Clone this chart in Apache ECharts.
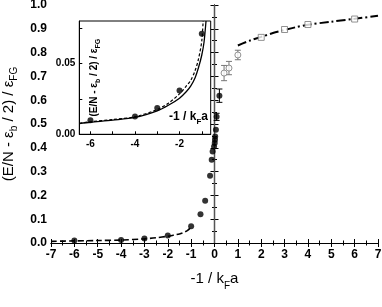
<!DOCTYPE html>
<html><head><meta charset="utf-8">
<script src="https://cdn.jsdelivr.net/npm/echarts@6/dist/echarts.min.js"></script>
<style>html,body{margin:0;padding:0;background:#fff}#c{width:382px;height:307px}</style>
</head><body><div id="c"></div>
<script>
// ---- data ----
const filledX = [-6,-4,-3,-2,-1,-0.6,-0.4,-0.19,-0.12,-0.08,-0.02,0.01,0.02,0.03,0.06,0.09,0.21];
const filledY = [0.010,0.0126,0.0186,0.031,0.070,0.121,0.178,0.283,0.35,0.384,0.405,0.42,0.434,0.448,0.476,0.530,0.619];
const filledErrX = [0.09,0.21];
const filledErrY = [0.530,0.619];
const filledErr = [0.015,0.028];
const openCircX = [0.41,0.62,1.0];
const openCircY = [0.714,0.735,0.79];
const openCircErr = [0.032,0.028,0.02];
const squareX = [2,3,4,6];
const squareY = [0.864,0.897,0.918,0.941];
const fitLeftX = [-7,-6,-5,-4,-3,-2.5,-2,-1.7,-1.5,-1.3,-1.15,-1.0];
const fitLeftY = [0.007,0.0088,0.0104,0.0124,0.0175,0.022,0.0285,0.034,0.038,0.045,0.053,0.066];
const fitRightX = [1,1.5,2,2.5,3,3.5,4,5,6,7];
const fitRightY = [0.830,0.850,0.866,0.882,0.895,0.907,0.917,0.930,0.942,0.955];
// inset
const insetX = [-6,-4,-3,-2,-1];
const insetY = [0.010,0.0126,0.0186,0.031,0.071];
const solidX = [-6.5,-6,-5,-4,-3,-2.5,-2,-1.7,-1.5,-1.3,-1.15,-1.0,-0.9,-0.81];
const solidY = [0.0076,0.0085,0.0100,0.0119,0.0166,0.0205,0.0255,0.030,0.034,0.040,0.047,0.056,0.065,0.080];
const dashX = [-6.5,-6,-5,-4,-3,-2.5,-2,-1.7,-1.5,-1.3,-1.15,-1.0,-0.94];
const dashY = [0.0078,0.0088,0.0104,0.0124,0.0175,0.022,0.0285,0.034,0.038,0.045,0.053,0.066,0.080];
const insetTickX = [-6,-5,-4,-3,-2,-1];
const insetLabelX = [-6,-4,-2];
const insetTickY = [0,0.025,0.05,0.075];
const insetLabelY = [0,0.05];

const zip = (a,b) => a.map((v,i)=>[v,b[i]]);
const F = '"Liberation Sans", Arial, sans-serif';

function errRender(color){
  return function(params, api){
    const x = api.value(0), lo = api.value(1), hi = api.value(2);
    const p1 = api.coord([x, lo]), p2 = api.coord([x, hi]);
    const w = 3;
    const st = {stroke: color, lineWidth: 1};
    return {type:'group', children:[
      {type:'line', shape:{x1:p1[0],y1:p1[1],x2:p2[0],y2:p2[1]}, style:st},
      {type:'line', shape:{x1:p1[0]-w,y1:p1[1],x2:p1[0]+w,y2:p1[1]}, style:st},
      {type:'line', shape:{x1:p2[0]-w,y1:p2[1],x2:p2[0]+w,y2:p2[1]}, style:st}
    ]};
  };
}

const chart = echarts.init(document.getElementById('c'), null, {renderer:'canvas'});
const axLine = {show:true, lineStyle:{color:'#000', width:1}};
const mainTick = {show:true, inside:true, length:4, lineStyle:{color:'#000'}};
const mainMinor = {show:true, splitNumber:2, length:2.5, lineStyle:{color:'#000'}};
const subStyle = {fontSize:10, fontFamily:F, lineHeight:22, verticalAlign:'bottom'};

chart.setOption({
  animation:false,
  grid:[
    {left:51, top:5, right:4, bottom:64, show:false, containLabel:false, outerBoundsMode:'none'},
    {left:79.3, top:21, width:131.4, height:113.3, show:true, backgroundColor:'#fff', borderColor:'#000', borderWidth:1, z:5, containLabel:false, outerBoundsMode:'none'}
  ],
  xAxis:[
    {gridIndex:0, type:'value', min:-7, max:7, interval:1, position:'bottom',
     axisLine:axLine, axisTick:mainTick, minorTick:mainMinor, splitLine:{show:false},
     axisLabel:{fontFamily:F, fontSize:12, fontWeight:'bold', color:'#000', margin:6},
     name:'-1 / k{s|F}a', nameLocation:'middle', nameGap:24,
     nameTextStyle:{fontFamily:F, fontSize:15, color:'#000', rich:{s:{fontSize:10, fontFamily:F, color:'#000', lineHeight:24, verticalAlign:'bottom'}}}},
    {gridIndex:0, type:'value', min:-7, max:7, interval:1, position:'top',
     axisLine:axLine, axisTick:mainTick, minorTick:mainMinor, splitLine:{show:false}, axisLabel:{show:false}},
    {gridIndex:1, type:'value', min:-6.5, max:-0.6, position:'bottom', z:6,
     axisLine:axLine,
     axisTick:{show:true, inside:true, length:3, customValues:insetTickX, lineStyle:{color:'#000'}},
     splitLine:{show:false},
     axisLabel:{customValues:insetLabelX, fontFamily:F, fontSize:10, fontWeight:'bold', color:'#000', margin:5}}
  ],
  yAxis:[
    {gridIndex:0, type:'value', min:0, max:1, interval:0.1, position:'left',
     axisLine:axLine, axisTick:mainTick, minorTick:mainMinor, splitLine:{show:false},
     axisLabel:{fontFamily:F, fontSize:12, fontWeight:'bold', color:'#000', margin:4, formatter:v=>v.toFixed(1)},
     name:'(E/N - ε{s|b} / 2) / ε{s|FG}', nameLocation:'middle', nameGap:30,
     nameTextStyle:{fontFamily:F, fontSize:15, color:'#000', rich:{s:subStyle}}},
    {gridIndex:0, type:'value', min:0, max:1, interval:0.1, position:'right',
     axisLine:axLine, axisTick:mainTick, minorTick:mainMinor, splitLine:{show:false}, axisLabel:{show:false}},
    {gridIndex:1, type:'value', min:0, max:0.08, position:'left', z:6,
     axisLine:axLine,
     axisTick:{show:true, inside:true, length:3, customValues:insetTickY, lineStyle:{color:'#000'}},
     splitLine:{show:false},
     axisLabel:{customValues:insetLabelY, fontFamily:F, fontSize:10, fontWeight:'bold', color:'#000', margin:4, formatter:v=>v.toFixed(2)},
     name:'(E/N - ε{s|b} / 2) / ε{s|FG}', nameLocation:'middle', nameGap:-22,
     nameTextStyle:{fontFamily:F, fontSize:10, fontWeight:'bold', color:'#000', rich:{s:{fontSize:7, fontWeight:'bold', fontFamily:F, color:'#000', lineHeight:15, verticalAlign:'bottom'}}}}
  ],
  graphic:[
    {type:'text', right:382-208, top:111, z:20,
     style:{text:'-1 / k{s|F}a', font:'bold 12px '+F, fill:'#000',
       rich:{s:{fontSize:8, fontWeight:'bold', fontFamily:F, fill:'#000', lineHeight:18, verticalAlign:'bottom'}}}}
  ],
  series:[
    {type:'line', xAxisIndex:0, yAxisIndex:0, data:[[0,0],[0,1]], symbol:'none', silent:true,
     lineStyle:{color:'#555', width:1.5}, z:1},
    {type:'line', xAxisIndex:0, yAxisIndex:0, data:zip(fitLeftX, fitLeftY), symbol:'none', smooth:0.3,
     lineStyle:{color:'#000', width:1.6, type:[6,3]}, z:2},
    {type:'line', xAxisIndex:0, yAxisIndex:0, data:zip(fitRightX, fitRightY), symbol:'none', smooth:0.3,
     lineStyle:{color:'#000', width:2, type:[9,3,2,3]}, z:2},
    {type:'custom', xAxisIndex:0, yAxisIndex:0, renderItem:errRender('#000'),
     data:filledErrX.map((x,i)=>[x, filledErrY[i]-filledErr[i], filledErrY[i]+filledErr[i]]), z:3},
    {type:'custom', xAxisIndex:0, yAxisIndex:0, renderItem:errRender('#777'),
     data:openCircX.map((x,i)=>[x, openCircY[i]-openCircErr[i], openCircY[i]+openCircErr[i]]), z:3},
    {type:'scatter', xAxisIndex:0, yAxisIndex:0, data:zip(filledX, filledY), symbol:'circle', symbolSize:6,
     itemStyle:{color:'#000'}, z:4},
    {type:'scatter', xAxisIndex:0, yAxisIndex:0, data:zip(openCircX, openCircY), symbol:'circle', symbolSize:6,
     itemStyle:{color:'#fff', borderColor:'#777', borderWidth:1}, z:4},
    {type:'scatter', xAxisIndex:0, yAxisIndex:0, data:zip(squareX, squareY), symbol:'rect', symbolSize:6,
     itemStyle:{color:'#fff', borderColor:'#777', borderWidth:1}, z:4},
    // inset
    {type:'line', xAxisIndex:2, yAxisIndex:2, data:zip(solidX, solidY), symbol:'none', smooth:0.3,
     lineStyle:{color:'#000', width:1.3}, z:7},
    {type:'line', xAxisIndex:2, yAxisIndex:2, data:zip(dashX, dashY), symbol:'none', smooth:0.3,
     lineStyle:{color:'#000', width:1.2, type:[3,2]}, z:7},
    {type:'scatter', xAxisIndex:2, yAxisIndex:2, data:zip(insetX, insetY), symbol:'circle', symbolSize:6,
     itemStyle:{color:'#000'}, z:8}
  ]
});
</script></body></html>
